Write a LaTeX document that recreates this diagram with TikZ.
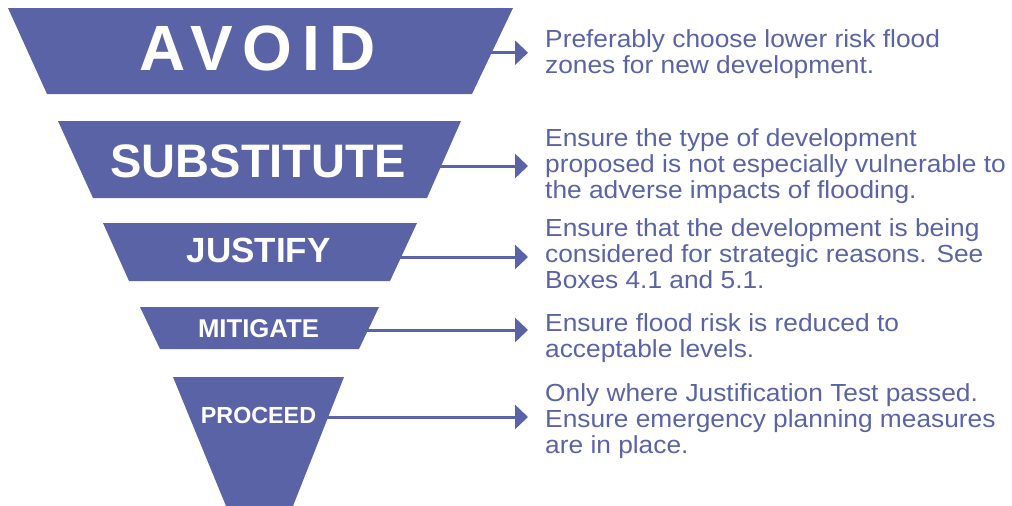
\documentclass[tikz,border=0pt]{standalone}
\usepackage{fontspec}
\setmainfont{Liberation Sans}
\usetikzlibrary{arrows.meta,positioning}
\definecolor{floodblue}{RGB}{90,99,165}

\begin{document}
\begin{tikzpicture}[x=1pt,y=-1pt,
  tier/.style={fill=floodblue},
  tierlabel/.style={anchor=base,text=white,inner sep=0pt},
  note/.style={anchor=base west,text=floodblue,align=left,inner sep=0pt,
    font=\fontsize{24.7}{26}\selectfont\addfontfeature{FakeStretch=1.065}},
  flow/.style={draw=floodblue,line width=3pt,-{Triangle[length=13pt,width=24pt]}}]
\useasboundingbox (0,0) rectangle (1012,506);

\fill[tier] (8,8) -- (513,8) -- (472,94) -- (47,94) -- cycle;
\fill[tier] (58,121) -- (461,121) -- (427,198) -- (93,198) -- cycle;
\fill[tier] (103,223) -- (417,223) -- (390,281) -- (129,281) -- cycle;
\fill[tier] (140,307) -- (379,307) -- (359,349) -- (160,349) -- cycle;
\fill[tier] (173,377) -- (344,377) -- (293,506) -- (226,506) -- cycle;

\node[tierlabel,font=\fontsize{64}{64}\selectfont\bfseries\addfontfeature{LetterSpace=15}] (avoid) at (257.5,70) {AVOID};
\node[tierlabel,font=\fontsize{47}{47}\selectfont\bfseries] (substitute) at (258,177.5) {SUBSTITUTE};
\node[tierlabel,font=\fontsize{35}{35}\selectfont\bfseries] (justify) at (258.5,262) {JUSTIFY};
\node[tierlabel,font=\fontsize{25.7}{25.7}\selectfont\bfseries] (mitigate) at (258.5,337) {MITIGATE};
\node[tierlabel,font=\fontsize{23.3}{23.3}\selectfont\bfseries] (proceed) at (258.5,423) {PROCEED};

\node[note] (avoidnote) at (545,73) {Preferably choose lower risk flood\\zones for new development.};
\node[note] (substitutenote) at (545,198) {Ensure the type of development\\proposed is not especially vulnerable to\\the adverse impacts of flooding.};
\node[note] (justifynote) at (545,288) {Ensure that the development is being\\considered for strategic reasons. See\\Boxes 4.1 and 5.1.};
\node[note] (mitigatenote) at (545,357) {Ensure flood risk is reduced to\\acceptable levels.};
\node[note] (proceednote) at (545,453) {Only where Justification Test passed.\\Ensure emergency planning measures\\are in place.};

\coordinate (avoid-r) at (488,52.7);
\coordinate (substitute-r) at (438,166);
\coordinate (justify-r) at (398,257);
\coordinate (mitigate-r) at (365,330);
\coordinate (proceed-r) at (325,417);

\draw[flow] (avoid-r) -- ([xshift=-17pt]avoid-r -| avoidnote.west);
\draw[flow] (substitute-r) -- ([xshift=-17pt]substitute-r -| substitutenote.west);
\draw[flow] (justify-r) -- ([xshift=-17pt]justify-r -| justifynote.west);
\draw[flow] (mitigate-r) -- ([xshift=-17pt]mitigate-r -| mitigatenote.west);
\draw[flow] (proceed-r) -- ([xshift=-17pt]proceed-r -| proceednote.west);
\end{tikzpicture}
\end{document}
